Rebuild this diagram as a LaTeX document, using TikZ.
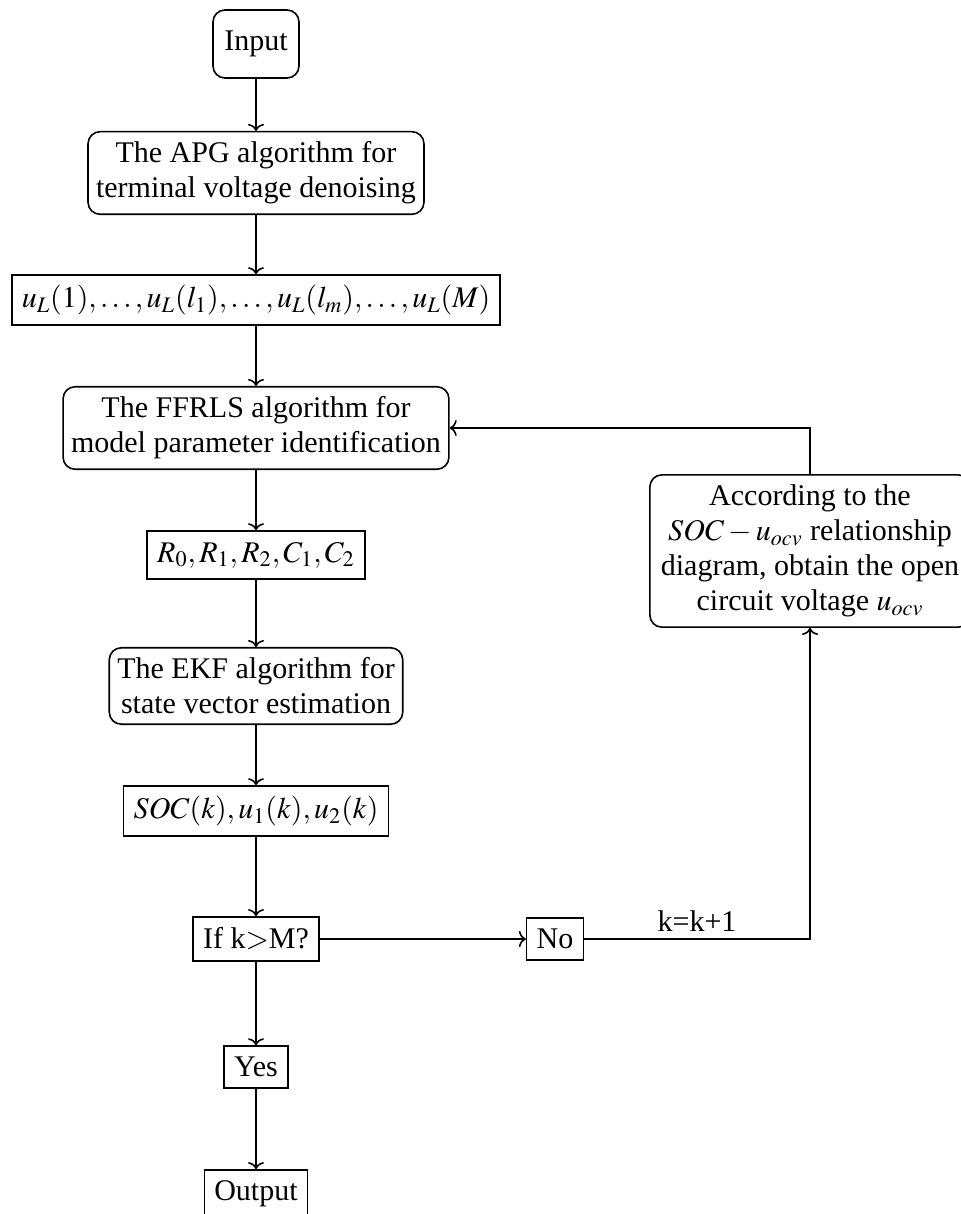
\documentclass[tikz,border=0pt]{standalone}
\usepackage{mathptmx}
\usepackage{fontspec}
\setmainfont{Liberation Serif}
\usetikzlibrary{arrows.meta}
\tikzset{
  flow step/.style={
    draw,
    rounded corners=6pt,
    align=center,
    inner xsep=4pt,
    inner ysep=5pt,
    line width=0.8pt
  },
  flow data/.style={
    draw,
    align=center,
    inner xsep=5pt,
    inner ysep=5.5pt,
    line width=0.8pt
  },
  flow arrow/.style={
    -{To[length=3.5pt,width=8pt]},
    line width=0.8pt
  },
}

\begin{document}
\begin{tikzpicture}[x=0.5pt,y=-0.5pt,font=\fontsize{15}{17.5}\selectfont]
  \useasboundingbox (0,0) rectangle (960,1214);
  \node[flow step,minimum width=43pt,minimum height=34pt] (input) at (256,44) {Input};
  \node[flow step] (apg) at (256,173) {The APG algorithm for\\terminal voltage denoising};
  \node[flow data,inner ysep=4pt,minimum height=25pt] (voltage) at (256,300) {$u_L(1),\ldots,u_L(l_1),\ldots,u_L(l_m),\ldots,u_L(M)$};
  \node[flow step] (ffrls) at (256,428) {The FFRLS algorithm for\\model parameter identification};
  \node[flow data] (params) at (256,555) {$R_0,R_1,R_2,C_1,C_2$};
  \node[flow step] (ekf) at (256,686) {The EKF algorithm for\\state vector estimation};
  \node[flow data,inner ysep=4pt,minimum height=25pt] (states) at (256,811) {$SOC(k),u_1(k),u_2(k)$};
  \node[flow data] (check) at (256,939) {If k$>$M?};
  \node[flow data] (no) at (555,939) {No};
  \node[flow data] (yes) at (256,1067) {Yes};
  \node[flow data] (output) at (256,1194) {Output};
  \node[flow step,inner xsep=5.5pt] (ocv) at (810,551) {According to the\\$SOC-u_{ocv}$ relationship\\diagram, obtain the open\\circuit voltage $u_{ocv}$};
  \draw[flow arrow] (input) -- (apg);
  \draw[flow arrow] (apg) -- (voltage);
  \draw[flow arrow] (voltage) -- (ffrls);
  \draw[flow arrow] (ffrls) -- (params);
  \draw[flow arrow] (params) -- (ekf);
  \draw[flow arrow] (ekf) -- (states);
  \draw[flow arrow] (states) -- (check);
  \draw[flow arrow] (check) -- (no);
  \draw[flow arrow] (check) -- (yes);
  \draw[flow arrow] (yes) -- (output);
  \draw[flow arrow] (no.east) -| node[pos=0.25,above] {k=k+1} (ocv.south);
  \draw[flow arrow] (ocv.north) |- (ffrls.east);
\end{tikzpicture}
\end{document}
